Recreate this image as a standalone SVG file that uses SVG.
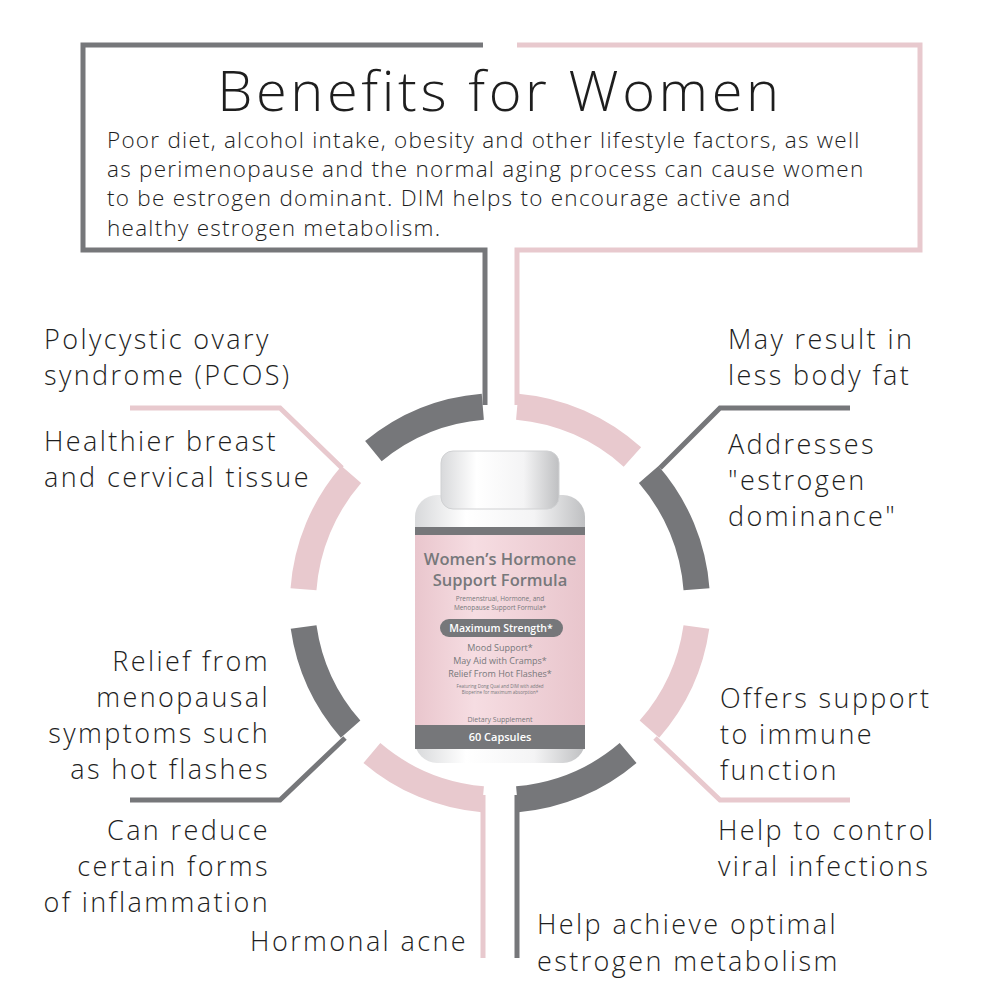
<svg xmlns="http://www.w3.org/2000/svg" width="1000" height="1000" viewBox="0 0 1000 1000">
<style>
.d{stroke:#76777a;fill:none}
.p{stroke:#e8c9ce;fill:none}
.ln{stroke-width:5}
.arc{stroke-width:26}
.t{font-family:"Open Sans",Lato,"Liberation Sans",sans-serif;font-weight:300;fill:#1e1e1e}
.lab{font-size:27px;letter-spacing:2.4px}
.b{font-family:"Open Sans","Liberation Sans",sans-serif;fill:#77787b;text-anchor:middle}
</style>
<defs>
<linearGradient id="cap" x1="0" x2="1"><stop offset="0" stop-color="#d8d9db"/><stop offset="0.3" stop-color="#ffffff"/><stop offset="0.7" stop-color="#f4f4f5"/><stop offset="1" stop-color="#bfc0c2"/></linearGradient>
<linearGradient id="lbl" x1="0" x2="1"><stop offset="0" stop-color="#e9c6cd"/><stop offset="0.35" stop-color="#f6dde2"/><stop offset="1" stop-color="#e8c5cc"/></linearGradient>
</defs>
<rect width="1000" height="1000" fill="#fff"/>
<g id="connectors">
<polyline class="d ln" points="483,45 83,45 83,250 485,250 485,405"/>
<polyline class="p ln" points="517,45 920,45 920,250 517,250 517,405"/>
<polyline class="p ln" points="130,408 280,408 342,468"/>
<polyline class="d ln" points="850,408 720,408 660,468"/>
<polyline class="d ln" points="130,800 280,800 345,738"/>
<polyline class="p ln" points="850,800 720,800 655,738"/>
<line class="p ln" x1="483" y1="795" x2="483" y2="958"/>
<line class="d ln" x1="517" y1="795" x2="517" y2="958"/>
</g>
<g id="ring">
<path class="d arc" d="M482.8,406.7 A197,197 0 0 0 373.4,451.1"/>
<path class="p arc" d="M517.2,406.7 A197,197 0 0 1 632.4,457"/>
<path class="d arc" d="M648.7,474.5 A197,197 0 0 1 696.5,589.3"/>
<path class="p arc" d="M696.4,627 A197,197 0 0 1 649.4,729.2"/>
<path class="d arc" d="M628.1,753 A197,197 0 0 1 517.2,799.3"/>
<path class="p arc" d="M482.8,799.3 A197,197 0 0 1 371.9,753"/>
<path class="d arc" d="M350.6,729.2 A197,197 0 0 1 303.6,627"/>
<path class="p arc" d="M303.5,589.3 A197,197 0 0 1 351.3,474.5"/>
</g>
<g id="header">
<text class="t" x="500" y="111" font-size="56" text-anchor="middle" letter-spacing="3.6">Benefits for Women</text>
<text class="t" font-size="22.5" letter-spacing="1.25"><tspan x="107" y="148">Poor diet, alcohol intake, obesity and other lifestyle factors, as well</tspan><tspan x="107" y="177">as perimenopause and the normal aging process can cause women</tspan><tspan x="107" y="206">to be estrogen dominant. DIM helps to encourage active and</tspan><tspan x="107" y="236">healthy estrogen metabolism.</tspan></text>
</g>
<g id="n-pcos"><text class="t lab"><tspan x="44" y="349">Polycystic ovary</tspan><tspan x="44" y="385">syndrome (PCOS)</tspan></text></g>
<g id="n-breast"><text class="t lab"><tspan x="44" y="451">Healthier breast</tspan><tspan x="44" y="487">and cervical tissue</tspan></text></g>
<g id="n-fat"><text class="t lab"><tspan x="728" y="349">May result in</tspan><tspan x="728" y="385">less body fat</tspan></text></g>
<g id="n-dominance"><text class="t lab"><tspan x="728" y="454">Addresses</tspan><tspan x="728" y="490">"estrogen</tspan><tspan x="728" y="526">dominance"</tspan></text></g>
<g id="n-relief"><text class="t lab" text-anchor="end"><tspan x="270" y="671">Relief from</tspan><tspan x="270" y="707">menopausal</tspan><tspan x="270" y="743">symptoms such</tspan><tspan x="270" y="779">as hot flashes</tspan></text></g>
<g id="n-inflam"><text class="t lab" text-anchor="end"><tspan x="270" y="840">Can reduce</tspan><tspan x="270" y="876">certain forms</tspan><tspan x="270" y="912">of inflammation</tspan></text></g>
<g id="n-acne"><text class="t lab" text-anchor="end" x="468" y="951">Hormonal acne</text></g>
<g id="n-immune"><text class="t lab"><tspan x="720" y="708">Offers support</tspan><tspan x="720" y="744">to immune</tspan><tspan x="720" y="780">function</tspan></text></g>
<g id="n-viral"><text class="t lab"><tspan x="718" y="840">Help to control</tspan><tspan x="718" y="876">viral infections</tspan></text></g>
<g id="n-metab"><text class="t lab"><tspan x="537" y="934">Help achieve optimal</tspan><tspan x="537" y="971">estrogen metabolism</tspan></text></g>
<g id="bottle">
<rect x="415" y="495" width="170" height="268" rx="22" fill="url(#cap)"/>
<rect x="441" y="451" width="118" height="58" rx="12" fill="url(#cap)" stroke="#d0d1d3"/>
<rect x="415" y="527" width="170" height="8" fill="#76777a"/>
<rect x="415" y="535" width="170" height="190" fill="url(#lbl)"/>
<rect x="415" y="725" width="170" height="24" fill="#76777a"/>
<text class="b" x="500" y="565" font-size="16.5" font-weight="600">Women’s Hormone</text>
<text class="b" x="500" y="586" font-size="16.5" font-weight="600">Support Formula</text>
<text class="b" x="500" y="601" font-size="6.5">Premenstrual, Hormone, and</text>
<text class="b" x="500" y="610" font-size="6.5">Menopause Support Formula*</text>
<rect x="440" y="619" width="123" height="18" rx="9" fill="#76777a"/>
<text class="b" x="501" y="632" font-size="10.5" font-weight="600" style="fill:#fff">Maximum Strength*</text>
<text class="b" x="500" y="651" font-size="9">Mood Support*</text>
<text class="b" x="500" y="664" font-size="9">May Aid with Cramps*</text>
<text class="b" x="500" y="677" font-size="9">Relief From Hot Flashes*</text>
<text class="b" x="500" y="688" font-size="4.5">Featuring Dong Quai and DIM with added</text>
<text class="b" x="500" y="694" font-size="4.5">Bioperine for maximum absorption*</text>
<text class="b" x="500" y="722" font-size="7">Dietary Supplement</text>
<text class="b" x="500" y="741" font-size="11" font-weight="600" style="fill:#fff">60 Capsules</text>
</g>
</svg>
